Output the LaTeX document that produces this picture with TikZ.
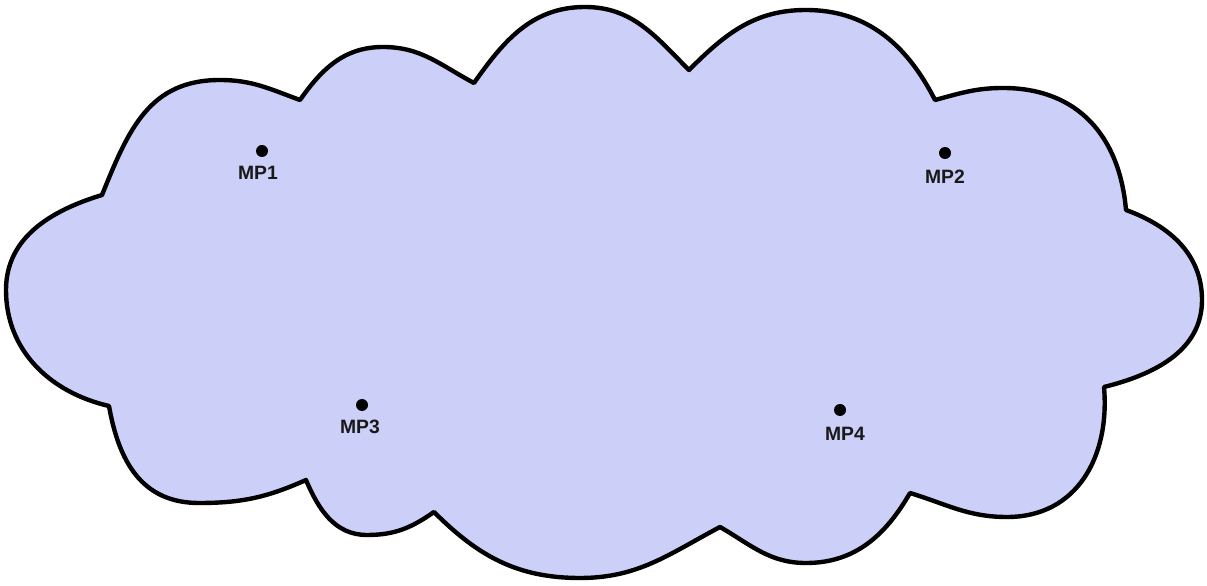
\documentclass[tikz,border=0pt]{standalone}
\usepackage{fontspec}
\setmainfont{Liberation Sans}
\definecolor{cloudfill}{RGB}{204,208,248}
\begin{document}
\begin{tikzpicture}[x=0.02cm,y=0.02cm,
  cloudline/.style={draw=black,line width=2.5pt,fill=cloudfill,line join=round},
  mpdot/.style={circle,fill=black,inner sep=0pt,minimum size=0.24cm},
  mplabel/.style={font=\fontsize{11}{13}\selectfont\bfseries,inner sep=0pt,text=black!90}]
\useasboundingbox (0,0) rectangle (1207,585);
% cusps and extrema (y measured upwards)
\coordinate (c1) at (102,390);
\coordinate (t1) at (220,505);
\coordinate (c2) at (300,485);
\coordinate (t2) at (383,538);
\coordinate (c3) at (474,502);
\coordinate (t3) at (585,578);
\coordinate (c4) at (689,515);
\coordinate (t4) at (806,575);
\coordinate (c5) at (935,485);
\coordinate (t5) at (1003,497);
\coordinate (c6) at (1126,375);
\coordinate (t6) at (1202,285);
\coordinate (c7) at (1104,198);
\coordinate (t7) at (1007,68);
\coordinate (c8) at (910,92);
\coordinate (t8) at (806,22);
\coordinate (c9) at (720,58);
\coordinate (t9) at (580,7);
\coordinate (c10) at (434,73);
\coordinate (t10) at (367,50);
\coordinate (c11) at (306,105);
\coordinate (t11) at (199,82);
\coordinate (c12) at (109,179);
\coordinate (t12) at (6,295);
\path[cloudline]
  (c1) to[out=68,in=180,looseness=1.1] (t1) to[out=0,in=160] (c2)
  to[out=55,in=180] (t2) to[out=0,in=152] (c3)
  to[out=55,in=180] (t3) to[out=0,in=135] (c4)
  to[out=45,in=180] (t4) to[out=0,in=117] (c5)
  to[out=15,in=180] (t5) to[out=0,in=95,looseness=1.1] (c6)
  to[out=-20,in=90] (t6) to[out=-90,in=14] (c7)
  to[out=-85,in=0,looseness=1.1] (t7) to[out=180,in=-17] (c8)
  to[out=240,in=0] (t8) to[out=180,in=-30] (c9)
  to[out=208,in=0] (t9) to[out=180,in=-45] (c10)
  to[out=215,in=0] (t10) to[out=180,in=-67] (c11)
  to[out=204,in=0] (t11) to[out=180,in=-80,looseness=1.1] (c12)
  to[out=167,in=-90] (t12) to[out=90,in=197] (c1) -- cycle;
% measurement points
\node[mpdot] (mp1) at (262,434) {};
\node[mpdot] (mp2) at (945,432) {};
\node[mpdot] (mp3) at (362,180) {};
\node[mpdot] (mp4) at (840,175) {};
\node[mplabel] (l1) at (258,412) {MP1};
\node[mplabel] (l2) at (945,408) {MP2};
\node[mplabel] (l3) at (360,158) {MP3};
\node[mplabel] (l4) at (845,151) {MP4};
\end{tikzpicture}
\end{document}
